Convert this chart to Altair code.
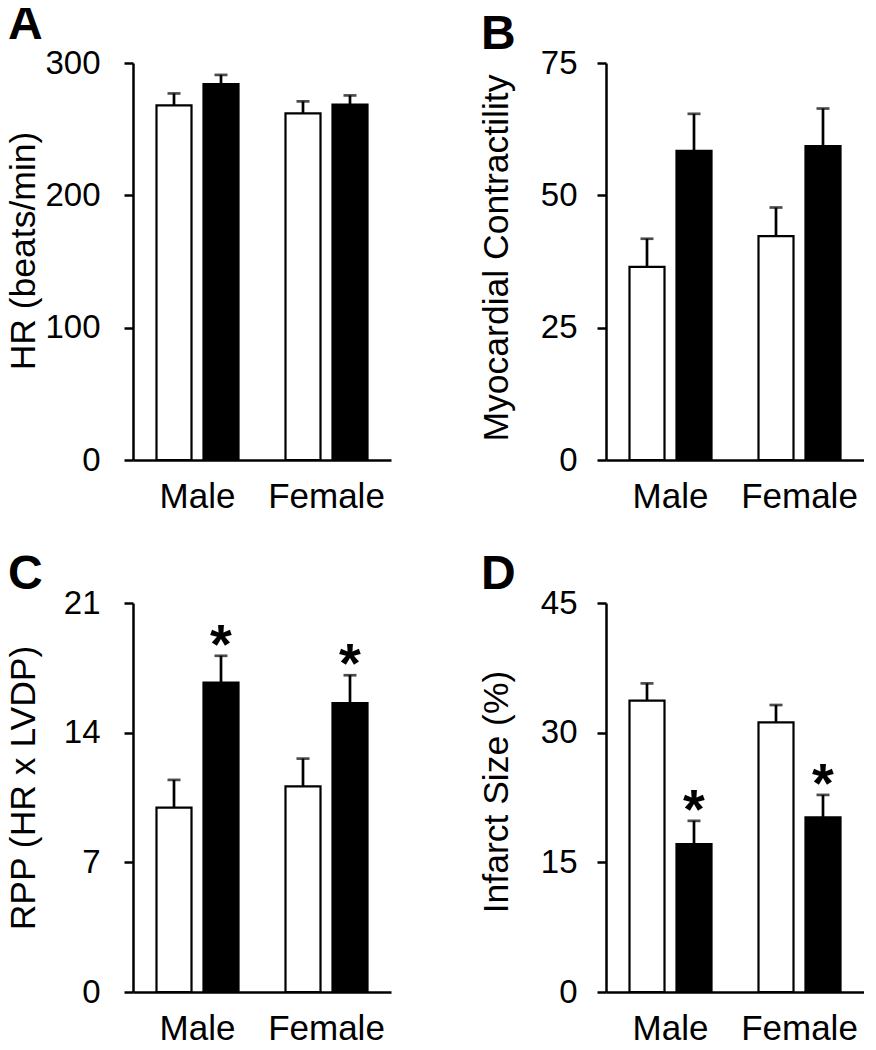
import altair as alt
import pandas as pd

sexes = ["Male", "Female"]
groups = ["Control", "Treated"]  # white bars, black bars

# order: Male-Control, Male-Treated, Female-Control, Female-Treated
hr_mean = [268, 284, 262, 268.5]
hr_err = [9, 7, 9, 7]
mc_mean = [36.5, 58.4, 42.3, 59.3]
mc_err = [5.3, 7.0, 5.4, 7.1]
rpp_mean = [9.95, 16.7, 11.1, 15.6]
rpp_err = [1.5, 1.45, 1.5, 1.5]
inf_mean = [33.7, 17.1, 31.2, 20.2]
inf_err = [2.0, 2.7, 2.0, 2.6]
no_sig = ["", "", "", ""]
rpp_sig = ["", "*", "", "*"]
inf_sig = ["", "*", "", "*"]

W = 258


def panel(letter, means, errs, sig, ytitle, ymax, ticks, h, lpad, tshift):
    df = pd.DataFrame({
        "sex": [s for s in sexes for _ in groups],
        "group": groups * 2,
        "mean": means,
        "err": errs,
        "sig": sig,
    })
    df["top"] = df["mean"] + df["err"]
    x = alt.X("sex:N", sort=sexes,
              scale=alt.Scale(paddingInner=0, paddingOuter=0),
              axis=alt.Axis(title=None, labelAngle=0, ticks=False, tickSize=0,
                            labelFontSize=35, labelPadding=19,
                            domainWidth=2.5, domainColor="black",
                            labelColor="black"))
    xo = alt.XOffset("group:N", sort=groups,
                     scale=alt.Scale(paddingInner=0.255, paddingOuter=0.5))
    yscale = alt.Scale(domain=[0, ymax], nice=False)
    y = alt.Y("mean:Q", scale=yscale,
              axis=alt.Axis(values=ticks, title=ytitle, grid=False,
                            domainWidth=2.5, domainColor="black",
                            tickWidth=2.5, tickSize=9, tickColor="black",
                            labelFontSize=33, labelPadding=lpad,
                            labelColor="black",
                            titleFontSize=35.5, titleFontWeight="normal",
                            titleColor="black", titleX=-127,
                            titleY=h / 2 + tshift, titleBaseline="top",
                            titleAngle=270))
    base = alt.Chart(df)
    bars = base.mark_bar(stroke="black", strokeWidth=2.2).encode(
        x=x, xOffset=xo, y=y,
        color=alt.Color("group:N", scale=alt.Scale(domain=groups, range=["white", "black"]),
                        legend=None))
    rules = base.mark_rule(strokeWidth=2.7, color="black").encode(
        x=x, xOffset=xo, y=alt.Y("mean:Q", scale=yscale), y2="top:Q")
    caps = base.mark_tick(orient="horizontal", size=13, thickness=2.7, color="black").encode(
        x=x, xOffset=xo, y=alt.Y("top:Q", scale=yscale))
    stars = base.mark_text(fontSize=56, fontWeight="bold", baseline="alphabetic",
                           dy=7, color="black").encode(
        x=x, xOffset=xo, y=alt.Y("top:Q", scale=yscale), text="sig:N")
    return alt.layer(bars, rules, caps, stars).properties(
        width=W, height=h,
        title=alt.TitleParams(letter, anchor="start", frame="bounds", fontSize=48,
                              fontWeight="bold", color="black", offset=-12, dx=2))


pa = panel("A", hr_mean, hr_err, no_sig, "HR (beats/min)", 300, [0, 100, 200, 300], 397, 24, -11)
pb = panel("B", mc_mean, mc_err, no_sig, "Myocardial Contractility", 75, [0, 25, 50, 75], 397, 20, -4)
pc = panel("C", rpp_mean, rpp_err, rpp_sig, "RPP (HR x LVDP)", 21, [0, 7, 14, 21], 389, 24, -10)
pd_ = panel("D", inf_mean, inf_err, inf_sig, "Infarct Size (%)", 45, [0, 15, 30, 45], 389, 20, -6)

chart = alt.vconcat(
    alt.hconcat(pa, pb, spacing=88),
    alt.hconcat(pc, pd_, spacing=88),
    spacing=37,
).properties(padding={"top": -8, "left": -2, "right": 0, "bottom": 0},
             background="white").configure(
    font="Liberation Sans"
).configure_view(stroke=None)

chart.save("out.html", embed_options={"renderer": "svg", "actions": False})
